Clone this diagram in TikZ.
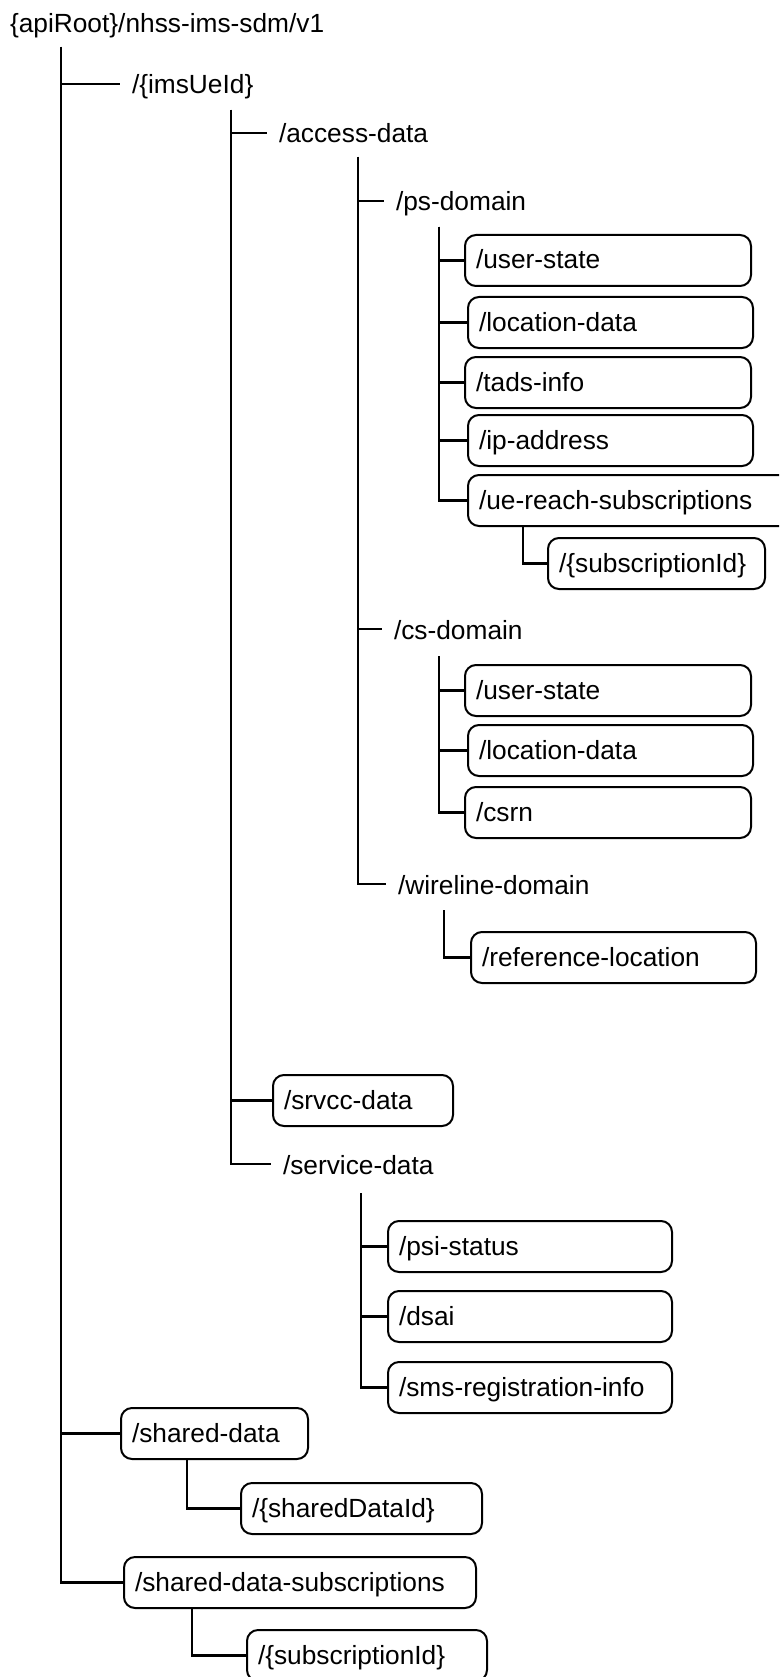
\documentclass[tikz,border=0pt]{standalone}
\usepackage{fontspec}
\setmainfont{Liberation Sans}
\begin{document}
\begin{tikzpicture}[x=1pt,y=-1pt, line width=2pt,
  every node/.style={font=\fontsize{26.3}{30}\selectfont},
  box/.style={draw, rounded corners=11pt, anchor=north west, inner xsep=11pt, inner ysep=0pt,
    align=left, text height=19pt, text depth=2pt, minimum height=51pt},
  lbl/.style={anchor=west, inner xsep=11pt, inner ysep=0pt, text height=20pt, text depth=0pt},
  conn/.style={line width=2.2pt}]
\useasboundingbox (0,0) rectangle (779,1677);
\clip (0,0) rectangle (779,1677);

\node[anchor=base west, inner sep=0pt] (root) at (9,33) {\{apiRoot\}/nhss-ims-sdm/v1};
\node[lbl] (ims) at (120,84) {/\{imsUeId\}};
\node[lbl] (acc) at (267,133) {/access-data};
\node[lbl] (ps) at (384,201) {/ps-domain};
\node[box, text width=264pt] (psus) at (464,234) {/user-state};
\node[box, text width=263pt] (psld) at (467,296) {/location-data};
\node[box, text width=264pt] (pstads) at (464,356) {/tads-info};
\node[box, text width=263pt] (psip) at (467,414) {/ip-address};
\node[box, text width=306pt] (psue) at (467,474) {/ue-reach-subscriptions};
\node[box, text width=195pt] (pssub) at (547,537) {/\{subscriptionId\}};
\node[lbl] (cs) at (382,629) {/cs-domain};
\node[box, text width=264pt] (csus) at (464,664) {/user-state};
\node[box, text width=263pt] (csld) at (467,724) {/location-data};
\node[box, text width=264pt] (cscsrn) at (464,786) {/csrn};
\node[lbl] (wl) at (386,884) {/wireline-domain};
\node[box, text width=263pt] (wlref) at (470,931) {/reference-location};
\node[box, text width=158pt] (srvcc) at (272,1074) {/srvcc-data};
\node[lbl] (sd) at (271,1164) {/service-data};
\node[box, text width=262pt] (psi) at (387,1220) {/psi-status};
\node[box, text width=262pt] (dsai) at (387,1290) {/dsai};
\node[box, text width=262pt] (sms) at (387,1361) {/sms-registration-info};
\node[box, text width=165pt] (shd) at (120,1407) {/shared-data};
\node[box, text width=219pt] (shdid) at (240,1482) {/\{sharedDataId\}};
\node[box, text width=330pt] (sds) at (123,1556) {/shared-data-subscriptions};
\node[box, text width=218pt] (sdsid) at (246,1629) {/\{subscriptionId\}};

\coordinate (r0) at (61,47);
\draw[conn] (r0) |- (ims.west);
\draw[conn] (r0) |- (shd.west);
\draw[conn] (r0) |- (sds.west);

\coordinate (v1) at (231,110);
\draw[conn] (v1) |- (acc.west);
\draw[conn] (v1) |- (srvcc.west);
\draw[conn] (v1) |- (sd.west);

\coordinate (v2) at (358,157);
\draw[conn] (v2) |- (ps.west);
\draw[conn] (v2) |- (cs.west);
\draw[conn] (v2) |- (wl.west);

\coordinate (vps) at (439,227);
\foreach \n in {psus,psld,pstads,psip,psue} \draw[conn] (vps) |- (\n.west);
\coordinate (vue) at (523,526);
\draw[conn] (vue) |- (pssub.west);

\coordinate (vcs) at (439,656);
\foreach \n in {csus,csld,cscsrn} \draw[conn] (vcs) |- (\n.west);

\coordinate (vwl) at (444,910);
\draw[conn] (vwl) |- (wlref.west);

\coordinate (vsd) at (361,1193);
\foreach \n in {psi,dsai,sms} \draw[conn] (vsd) |- (\n.west);

\coordinate (vsh) at (187,1460);
\draw[conn] (vsh) |- (shdid.west);

\coordinate (vss) at (192,1607);
\draw[conn] (vss) |- (sdsid.west);
\end{tikzpicture}
\end{document}
